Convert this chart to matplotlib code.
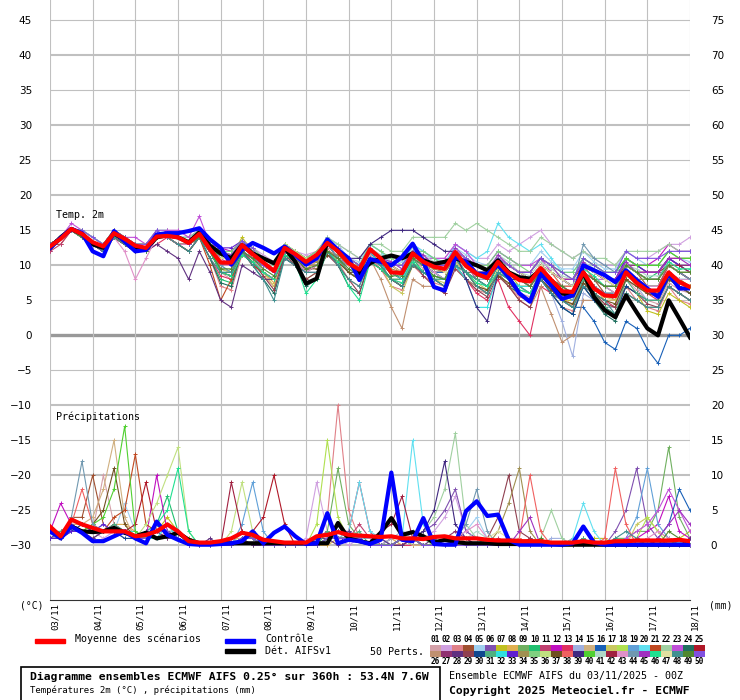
import numpy as np
import matplotlib.pyplot as plt
from matplotlib.patches import Rectangle
from matplotlib.transforms import blended_transform_factory

# forecast steps every 6h over 360h
hours = np.arange(0, 361, 6)
days = hours / 24.0
day_labels = ["03/11", "04/11", "05/11", "06/11", "07/11", "08/11", "09/11", "10/11",
              "11/11", "12/11", "13/11", "14/11", "15/11", "16/11", "17/11", "18/11"]

# temperature 2m (degC)
mean_t = [12.7, 13.8, 15.2, 14.5, 13.3, 12.7, 14.6, 13.8, 12.8, 12.5, 14.1, 14.2, 14.0, 13.2, 14.5, 12.3,
          10.4, 10.4, 12.9, 11.6, 10.4, 9.2, 12.5, 11.6, 10.5, 11.5, 13.2, 12.0, 10.3, 9.4, 12.3, 11.0,
          9.0, 8.9, 11.7, 10.5, 9.8, 9.5, 11.9, 9.9, 8.8, 8.2, 10.5, 8.9, 7.9, 7.7, 9.6, 7.9,
          6.3, 6.2, 9.0, 6.7, 5.7, 5.6, 9.0, 7.5, 6.4, 6.4, 9.0, 7.6, 6.9]
ctrl_t = [12.5, 13.9, 15.2, 14.6, 12.0, 11.3, 14.9, 13.4, 12.0, 12.2, 14.4, 14.6, 14.6, 14.9, 15.3, 13.7,
          12.5, 10.1, 12.2, 13.2, 12.5, 11.7, 12.7, 11.5, 10.1, 11.0, 13.7, 12.2, 11.0, 7.9, 10.9,
          10.5, 10.0, 11.2, 13.1, 10.5, 6.9, 6.4, 11.2, 10.5, 8.8, 8.8, 10.0, 8.3, 6.0, 4.8,
          8.8, 7.1, 5.2, 5.7, 10.0, 9.3, 8.6, 7.6, 9.3, 7.9, 6.7, 5.5, 8.8, 6.7, 6.7]
det_t = [12.5, 14.0, 15.2, 14.5, 13.0, 12.5, 14.6, 13.5, 12.5, 12.3, 14.0, 14.3, 14.0, 13.3, 14.7, 12.8,
         11.7, 11.0, 12.9, 11.7, 11.0, 10.3, 12.5, 10.5, 7.4, 8.1, 13.4, 12.0, 10.5, 8.9, 10.3,
         11.0, 11.4, 11.0, 11.7, 10.7, 10.2, 10.5, 11.0, 10.5, 10.0, 9.3, 10.7, 9.0, 8.3, 8.1,
         9.3, 7.6, 6.0, 5.7, 9.0, 5.5, 3.6, 2.6, 5.7, 3.3, 1.0, 0.0, 5.0, 2.4, -0.3]

# precipitation (mm)
mean_p = [2.7, 1.3, 3.7, 3.0, 2.5, 2.0, 2.0, 2.0, 1.3, 1.5, 2.0, 3.0, 2.0, 0.6, 0.4, 0.4,
          0.6, 1.0, 1.8, 1.5, 0.8, 0.6, 0.4, 0.4, 0.4, 1.3, 1.5, 1.9, 1.5, 1.4, 1.3,
          1.2, 1.3, 1.0, 1.0, 0.9, 1.2, 1.3, 1.0, 1.0, 1.0, 0.8, 0.7, 0.7, 0.6, 0.6,
          0.6, 0.4, 0.4, 0.4, 0.6, 0.4, 0.4, 0.6, 0.6, 0.7, 0.7, 0.7, 0.7, 0.8, 0.6]
ctrl_p = [2.0, 1.0, 2.7, 1.8, 0.6, 0.6, 1.3, 2.0, 1.0, 0.3, 3.4, 1.5, 0.8, 0.2, 0.1, 0.1,
          0.2, 0.3, 0.6, 2.0, 0.3, 1.8, 2.7, 1.3, 0.2, 0.3, 4.6, 0.3, 0.8, 0.6, 0.2,
          0.8, 10.4, 0.8, 0.6, 3.9, 0.2, 0.1, 0.1, 4.9, 6.3, 4.2, 4.4, 0.8, 0.1, 0.1,
          0.1, 0.1, 0.1, 0.3, 2.7, 0.4, 0.1, 0.1, 0.1, 0.1, 0.1, 0.1, 0.1, 0.1, 0.1]
det_p = [2.5, 1.3, 2.7, 2.0, 1.9, 2.0, 2.5, 1.8, 1.3, 1.8, 1.0, 1.3, 1.8, 0.8, 0.3, 0.3,
         0.3, 0.3, 0.3, 0.3, 0.3, 0.3, 0.3, 0.3, 0.3, 0.3, 0.3, 3.2, 1.0, 0.6, 0.3,
         1.8, 3.9, 1.5, 1.9, 1.3, 0.4, 0.8, 0.5, 0.3, 0.3, 0.3, 0.2, 0.2, 0.2, 0.2,
         0.2, 0.2, 0.1, 0.1, 0.1, 0.1, 0.1, 0.1, 0.1, 0.1, 0.1, 0.1, 0.1, 0.1, 0.1]

member_colors = [
    "#d4a0a8", "#d0a0e0", "#e08088", "#a05030", "#a0d0f0", "#8050b0", "#c0c020", "#e0b050",
    "#70b060", "#20c070", "#c04070", "#c010c0", "#e03060", "#a0b0e0", "#d0b080", "#1860b8",
    "#c8c860", "#b0e050", "#60a0d8", "#60e0f0", "#c04820", "#a0d0a0", "#c050d8", "#207060",
    "#b01828", "#c09070", "#903070", "#603080", "#904050", "#104890", "#50b080", "#30e0e0",
    "#6020d0", "#a09050", "#80d080", "#c0e080", "#705020", "#f06060", "#402880", "#50d030",
    "#b0d8c8", "#a02040", "#e090c8", "#7098b0", "#a030c0", "#20e090", "#e0e0a0", "#409090",
    "#508830", "#8050e0"]

# one row per member, one group per day (00/06/12/18Z) + last step
member_t = """
13 14 15 14 | 13 12 14 14 | 13 12 14 14 | 14 13 14 12 | 9 8 12 11 | 9 8 12 11.5 | 10 10.5 13 11 | 9 8 11.5 10 | 8 7.5 11 9.5 | 8.5 8 10.5 9 | 7 6.5 9 8 | 6 5.5 8 6.5 | 5 4.5 8 6 | 4.5 4 8 6.5 | 5 4.5 7.5 6.5 | 6
13 14 15 15 | 14 13 15 14 | 13 13 14 15 | 15 14 15 13 | 12 12 13.5 12.5 | 11.5 10.5 13 12 | 11.5 12 14 13 | 12 11 13 12 | 11 11 13 12 | 11 11 13 12 | 11 11 13 12 | 13 14 15 13 | 12 11 12 11 | 10 10 12 11 | 11 12 13 13 | 14
12 14 15 14 | 13 13 14 13 | 12 12 14 14 | 13 12 14 11 | 7 6.5 11.5 10.5 | 8.5 7 11.5 10.5 | 9 10 12.5 10.5 | 8 7 11 9.5 | 7 6.5 10 8.5 | 7.5 7 10 8 | 6.5 6 9 7 | 5.5 5 8 6 | 4 3.5 7 5 | 3.5 3 7 5 | 4 3.5 7 5 | 4.5
13 13 15 14 | 13 12 14 13 | 13 12 14 14 | 14 13 14 12 | 11 11 13.5 12 | 10 9 13 12 | 10 11 12 11 | 10 9 12 10 | 9 8 11 10 | 9 9 11 9 | 9 8 10 8 | 7 7 10 8 | 7 7 10 8 | 6 6 10 9 | 7 7 10 9 | 8
13 14 15 15 | 14 13 15 14 | 13 13 15 14 | 14 13 15 13 | 12 12 13.5 12.5 | 11 10 13 12 | 11 12 14 13 | 11 10.5 13 12 | 10.5 10.5 12.5 11.5 | 11 10.5 12.5 11.5 | 10.5 10 12 11 | 10 10 12 10.5 | 9.5 9.5 12 10.5 | 9.5 9.5 12 11 | 10 10 12 11 | 10.5
12 14 15 14 | 13 12 14 14 | 12 12 14 14 | 14 13 14 12 | 9.5 9 12 11 | 10 9 12 11 | 10 11 13 11 | 10 9 12 11 | 9 9 12 10 | 9 9 12 10 | 9 8 10 9 | 8 7 9 8 | 6 6 9 7 | 6 6 10 9 | 8 8 11 10 | 9
13 14 15 14 | 13 13 15 14 | 13 13 14 14 | 14 13 15 12 | 11 11 14 12 | 10 9 13 12 | 11 12 13 12 | 10 10 12 11 | 9 9 11 10 | 10 9 12 10 | 9 8 11 9 | 7 7 9 7 | 5 5 8 6 | 4 4 7 6 | 3.5 3 6 5 | 4
13 14 15 14 | 13 13 14 14 | 13 12 14 14 | 13 13 14 12 | 9.5 9 12 11 | 9 7.5 12 11 | 9.5 10.5 12 11 | 9 8 11 10 | 8 8 11 10 | 9 9 11 10 | 9 8 10 9 | 8 8 10 8 | 7 6 9 7 | 5 5 9 7 | 6 6 9 8 | 7
13 14 15 15 | 13 13 15 14 | 13 13 14 14 | 14 13 15 12 | 10.5 10.5 13 12 | 10 9 12 11 | 10 11 13 12 | 10 9 12 11 | 9 9 12 11 | 10 10 12 10 | 9 9 11 9 | 8 8 10 8 | 7 7 9 8 | 7 7 9 8 | 7 7 10 9 | 8
13 14 15 14 | 13 12 14 13 | 12 12 14 14 | 14 13 14 11 | 8 7.5 12 11 | 10 9 12 11 | 10 10 12 11 | 9 8 11 10 | 8 8 11 9 | 8 8 11 9 | 8 7 10 8 | 7 6 9 7 | 6 5 9 7 | 6 6 9 8 | 8 9 11 10 | 9
12 13 15 14 | 13 12 14 13 | 12 12 14 14 | 14 13 14 12 | 11.5 11.5 13 12 | 10 9 12 11 | 10 11 13 12 | 10 9 12 11 | 9 8 11 10 | 9 9 12 10 | 8 8 10 9 | 8 7 9 7 | 6 6 9 7 | 6 5 9 8 | 7 7 10 9 | 8
13 14 15 14 | 13 13 15 14 | 13 13 14 15 | 14 14 15 13 | 12.5 12 13.5 12.5 | 11 10 13 12 | 11 12 13 12 | 11 10 12 11 | 10 10 12 11 | 10 10 12 11 | 10 9 11 10 | 9 9 11 9 | 8 8 10 9 | 8 8 11 10 | 10 11 13 12 | 12
13 14 15 14 | 13 12 14 13 | 12 12 13 14 | 13 12 14 11 | 8.5 8 12 10 | 9 8 12 11 | 9 10 12 11 | 9 8 11 10 | 8 7 10 9 | 8 7 10 8 | 6 5 8 4 | 2 0 7 6 | 5 4 7 6 | 5 4 8 7 | 6 5 8 7 | 6
13 14 15 14 | 13 13 14 14 | 13 12 14 14 | 14 13 14 12 | 10 10 12 11 | 10 9 12 11 | 10 10 12 11 | 10 9 12 10 | 9 8 11 10 | 9 9 11 9 | 8 8 10 8 | 7 6 9 6 | 2 -3 6 5 | 4 4 8 7 | 5 5 8 7 | 6
13 14 15 15 | 14 13 15 14 | 13 13 14 14 | 14 13 14 12 | 12 11.5 13 11 | 10 9 12 11 | 10 11 13 12 | 10 9 12 11 | 9 9 12 11 | 10 9 12 10 | 9 8 11 9 | 8 8 10 8 | 6 4 7 6 | 5 5 8 7 | 6 6 8 7 | 6
13 14 15 14 | 13 12 14 14 | 13 12 14 14 | 14 13 14 12 | 10 10 12 11 | 10 9 12 11 | 10 11 13 12 | 10 9 12 11 | 9 9 11 10 | 9 9 11 10 | 9 8 10 9 | 8 7 9 7 | 5 4 4 2 | -1 -2 2 1 | -2 -4 0 0 | 1
13 14 15 14 | 13 13 15 14 | 13 12 14 14 | 14 13 14 12 | 9.5 9 12 11 | 9 7 11 10 | 8 9 12 10.5 | 9 8 11 10 | 7 6 10 9 | 8 7.5 10.5 9 | 7.5 6.5 9.5 8 | 6.5 6 9 7.5 | 6 5 8.5 7 | 5.5 5 8.5 7.5 | 6.5 6 9 8 | 7
13 14 15 14 | 13 13 15 14 | 13 12 14 14 | 14 13 15 12 | 12 11.5 13.5 12 | 10 9 13 12 | 11 11 13 12 | 10 10 12 11 | 10 9 12 11 | 10 10 12 11 | 10 9 11 10 | 9 9 11 10 | 8 8 10 9 | 8 8 10 9 | 8 8 10 9 | 9
13 14 15 14 | 13 12 14 14 | 13 12 14 14 | 13 13 14 12 | 10 9 12 11 | 9 8 12 11 | 10 10 12 11 | 9 8 11 10 | 9 8 11 10 | 8 8 11 9 | 8 7 10 8 | 7 6 9 7 | 6 5 8 7 | 6 6 11 10 | 9 9 11 10 | 9
13 14 15 15 | 14 13 15 14 | 13 13 15 15 | 14 14 15 13 | 11 11 13 12 | 11 10 13 12 | 11 11 13 12 | 11 10 13 12 | 10 10 13 12 | 11 10 13 12 | 11 12 16 14 | 13 12 13 11 | 9 9 11 10 | 9 9 11 10 | 9 9 11 10 | 10
13 14 15 14 | 13 12 14 13 | 12 12 14 14 | 13 12 14 10 | 5 8 12 10 | 9 8 12 11 | 10 10 12 11 | 10 9 12 10 | 9 8 11 10 | 9 8 11 10 | 9 8 10 9 | 8 7 9 8 | 7 6 9 8 | 7 6 9 8 | 7 7 9 8 | 7
13 14 15 15 | 14 13 15 14 | 13 13 15 15 | 14 14 15 13 | 11 11 13 12 | 11 10 13 12 | 11 12 14 13 | 12 11 13 13 | 12 12 14 14 | 14 14 16 15 | 16 15 14 13 | 12 12 14 13 | 12 11 12 11 | 11 10 12 12 | 12 12 13 12 | 12
13 14 16 15 | 14 13 15 14 | 14 13 15 15 | 15 14 17 13 | 11 10 12 11 | 10 9 12 11 | 10 11 13 12 | 11 10 12 11 | 10 10 12 11 | 11 11 13 12 | 10 10 12 11 | 10 10 11 9 | 8 7 9 8 | 8 8 10 9 | 9 9 11 10 | 10
13 14 15 14 | 13 12 14 13 | 12 12 14 14 | 13 12 14 11 | 7.5 7 12 10 | 8 6 11 10 | 7 8 12 10 | 7 6 11 10 | 8 7 10 9 | 8 7 10 8 | 7 6 9 7 | 6 5 8 6 | 4 3 7 5 | 3 2 6 5 | 4 4 7 6 | 5
13 14 15 15 | 13 13 15 14 | 13 13 14 14 | 14 13 14 12 | 10 11 13 12 | 10 9 12 12 | 11 11 13 12 | 11 10 12 11 | 10 9 12 11 | 10 10 12 10 | 9 9 11 9 | 8 8 10 9 | 8 8 10 9 | 8 8 10 9 | 9 9 11 11 | 11
13 14 15 14 | 13 12 14 13 | 12 12 14 14 | 13 13 14 12 | 10 10 12 11 | 10 9 12 11 | 10 10 12 11 | 9 8 11 8 | 4 1 8 7 | 7 6 10 8 | 7 6 9 7 | 5 4 7 3 | -1 0 5 5 | 4 3 6 5 | 4 4 7 6 | 5
13 14 15 14 | 13 13 14 14 | 13 12 14 14 | 14 13 14 12 | 10 10 12 11 | 10 9 12 11 | 10 11 13 12 | 10 9 12 11 | 9 9 12 11 | 10 9 12 11 | 9 9 11 10 | 9 8 10 9 | 8 7 10 9 | 8 8 10 10 | 9 9 11 10 | 10
13 14 15 14 | 13 12 14 13 | 12 12 13 12 | 11 8 12 9 | 5 4 10 9 | 8 8 11 10 | 9 9 12 11 | 9 9 12 11 | 10 9 12 11 | 10 10 12 10 | 9 9 11 10 | 9 8 10 9 | 8 7 10 9 | 8 7 10 9 | 8 8 10 9 | 9
13 14 15 14 | 13 12 14 14 | 13 12 14 14 | 14 13 14 12 | 9 8.5 12 10.5 | 8.5 6.5 11.5 10 | 8 9 11.5 10 | 8 6 10.5 9.5 | 8 7 10.5 8.5 | 7 6 9.5 8 | 6.5 5.5 8.5 7 | 5 4 8 6.5 | 5 4 7.5 6 | 4.5 4 7 6 | 4.5 4 7 6 | 5
13 14 15 14 | 13 13 15 14 | 13 12 14 14 | 14 13 14 12 | 10 10 12 11 | 10 9 12 11 | 10 11 13 11 | 10 9 12 10 | 9 8 11 10 | 9 8 11 9 | 8 7 10 8 | 6 5 8 6 | 4 3 7 5 | 4 3 7 6 | 5 5 8 7 | 6
13 14 15 14 | 13 12 14 13 | 12 12 14 14 | 14 13 14 12 | 9 9 12 11 | 9 8 12 11 | 9 10 12 11 | 9 8 11 10 | 8 8 11 10 | 8 8 11 9 | 8 7 10 8 | 7 6 9 7 | 5 4 8 6 | 4 3 8 6 | 5 5 8 7 | 6
13 14 15 15 | 14 13 15 14 | 13 13 14 14 | 14 13 15 12 | 10 10 12 11 | 10 9 12 11 | 10 11 13 12 | 10 9 12 10 | 9 8 11 10 | 9 8 10 8 | 4 4 9 8 | 7 7 9 8 | 7 6 9 8 | 7 6 9 8 | 7 7 9 8 | 8
13 14 15 14 | 13 13 14 14 | 13 12 14 14 | 14 13 14 12 | 12.5 12.5 13.5 12 | 10 9 12 11 | 10 11 13 12 | 10 9 12 11 | 10 9 12 11 | 10 9 12 10 | 9 9 11 10 | 9 8 10 9 | 8 7 10 9 | 8 8 11 10 | 9 9 11 10 | 9
13 14 15 14 | 13 12 14 13 | 12 12 14 14 | 13 13 14 12 | 10.5 10 12.5 11.5 | 10 9 12 11 | 10.5 10.5 12 11.5 | 10 9.5 12 11 | 9.5 9 11.5 10 | 9.5 9 11 10 | 9 8 10 9 | 8 7 9 8 | 7 6 9 8 | 7 7 9 8 | 8 8 10 9 | 8
13 14 15 15 | 14 13 15 14 | 13 13 14 14 | 14 13 15 13 | 12 12 13.5 12.5 | 11 10 13 12 | 11 12 13 12 | 11 10 13 12 | 11 10 12 12 | 11 10 12 11 | 10 10 12 11 | 10 9 11 10 | 9 9 11 10 | 9 9 11 10 | 10 10 12 11 | 11
13 14 15 14 | 13 13 15 14 | 13 12 14 14 | 14 13 14 12 | 10 10 12 11 | 10 9 13 12 | 11 11 13 12 | 10 9 12 11 | 10 9 12 11 | 10 9 12 10 | 9 9 11 10 | 9 8 10 9 | 7 7 10 9 | 8 7 10 9 | 8 8 10 9 | 9
13 14 15 14 | 13 12 14 13 | 12 12 14 14 | 13 13 14 12 | 9 8.5 11.5 10.5 | 9 8 11.5 10.5 | 9.5 9.5 11.5 10.5 | 9 8 10.5 9.5 | 8 7 10 9 | 8.5 8 10 9 | 7 6.5 8.5 7.5 | 6 5 8 6.5 | 5 4.5 7.5 6 | 5 4.5 8 7 | 6 5.5 8 7 | 6
13 14 15 14 | 13 13 14 14 | 13 12 14 14 | 14 13 14 12 | 10 10 13 11 | 10 9 12 11 | 10 11 13 12 | 10 9 12 11 | 9 9 12 11 | 10 9 12 10 | 9 8 11 9 | 8 8 10 9 | 7 7 10 8 | 7 7 10 9 | 8 8 10 9 | 8
13 14 15 14 | 13 13 15 14 | 13 13 14 14 | 14 13 15 12 | 10 10 12 11 | 10 9 12 11 | 10 11 13 12 | 11 11 13 14 | 15 15 15 14 | 13 12 12 8 | 4 2 9 8 | 8 7 9 8 | 7 6 9 8 | 7 7 10 9 | 8 8 10 9 | 8
13 14 15 14 | 13 13 15 14 | 13 12 14 14 | 14 13 14 12 | 11.5 11 13 12 | 10 9 12 11 | 10 11 13 12 | 10 9 12 11 | 9 9 12 11 | 10 9 12 10 | 9 9 11 10 | 9 9 11 10 | 9 8 11 10 | 9 9 11 10 | 10 10 12 11 | 11
13 14 15 15 | 14 13 15 14 | 13 13 14 14 | 14 13 15 12 | 10.5 10.5 13.5 12.5 | 10.5 9.5 12.5 11.5 | 10.5 11.5 13.5 12.5 | 10.5 9.5 12.5 11.5 | 10.5 9.5 12.5 11.5 | 10.5 10 12 11 | 10 9.5 11.5 10.5 | 9 8.5 10.5 9.5 | 8.5 8 10.5 9.5 | 8.5 8 10 9.5 | 8.5 8.5 10.5 9.5 | 9.5
13 14 15 14 | 13 12 14 13 | 12 12 14 14 | 13 13 14 12 | 10 10 12 11 | 10 9 12 11 | 10 11 12 11 | 10 9 12 11 | 10 9 12 11 | 10 9 12 11 | 10 9 11 10 | 9 8 10 9 | 8 7 10 9 | 8 8 10 9 | 9 9 10 10 | 9
13 14 15 14 | 13 12 14 12 | 8 11 14 14 | 13 13 14 12 | 10 10 12 11 | 9 8 12 11 | 9 10 12 11 | 10 9 12 11 | 9 9 11 10 | 9 8 11 10 | 9 8 10 9 | 8 7 9 8 | 7 6 9 8 | 7 6 9 8 | 7 7 9 8 | 8
13 14 15 14 | 13 13 15 14 | 13 12 14 14 | 14 13 14 12 | 10 9 12 11 | 10 9 12 11 | 10 11 13 11 | 10 9 12 11 | 9 9 12 11 | 10 10 12 11 | 10 9 11 10 | 9 8 10 9 | 8 7 13 11 | 10 9 10 9 | 8 8 10 9 | 8
13 14 15 14 | 13 12 14 14 | 13 12 14 14 | 14 13 14 12 | 10.5 10 12.5 11.5 | 10 9 12.5 11 | 10 11 13 12.5 | 10 9 12.5 11 | 10.5 9.5 12 11.5 | 10 10 12.5 11 | 9 9 11.5 10 | 9 9 11 10 | 8 8 10.5 9 | 8 8 10.5 9 | 9 9 11 11 | 10
13 14 15 14 | 13 13 14 14 | 13 12 14 14 | 14 13 14 12 | 9 8.5 11.5 10.5 | 9 8 11.5 10.5 | 6 8 12 10.5 | 7 5 10.5 9.5 | 8 7.5 10.5 9 | 8.5 8 10 9 | 7.5 7 9 8 | 6.5 6 8.5 7.5 | 6.5 6 9.5 8.5 | 7 7 10 9 | 8 8 10.5 9.5 | 9.5
13 14 15 14 | 13 13 15 14 | 13 13 14 14 | 14 13 15 12 | 11 11 13 12 | 10 9 12 11 | 10 11 13 12 | 10 9 12 11 | 10 9 12 11 | 10 9 12 11 | 9 9 11 10 | 9 8 10 9 | 8 7 10 9 | 8 7 10 9 | 8 8 10 9 | 9
13 14 15 14 | 13 12 14 13 | 12 12 14 14 | 13 12 14 11 | 9 9 12 10 | 8 5 11 10 | 9 9 12 10 | 8 7 11 10 | 8 7 10 9 | 8 7 10 9 | 7 6 9 8 | 6 5 8 6 | 5 4 7 6 | 5 3 6 5 | 4 4 7 6 | 5
13 14 15 14 | 13 13 15 14 | 13 12 14 14 | 14 13 14 12 | 9.5 9.5 12 11 | 9.5 8.5 12 11 | 9.5 10 12 11 | 9.5 8.5 12 11 | 8.5 8.5 11 10 | 8.5 8 11 10 | 8.5 8 10 9 | 8 7 9 8 | 7 6 9 8 | 7 7 10 9 | 8 8 10 9 | 9
13 14 15 15 | 14 13 15 14 | 13 13 15 14 | 14 13 15 12 | 12 11.5 13.5 12.5 | 10 9 12 11 | 10 11 13 12 | 11 10 12 11 | 10 10 12 11 | 10 10 12 11 | 10 9 11 10 | 9 9 11 10 | 9 8 11 10 | 9 9 12 11 | 11 11 12 12 | 12
"""

member_p = """
2 1 3 2 | 2 10 3 2 | 1 1 2 2 | 1 0 0 0 | 0 1 1 1 | 0 0 0 0 | 0 1 2 1 | 1 1 1 0 | 1 0 1 1 | 0 0 0 1 | 0 0 0 1 | 1 0 0 0 | 0 0 1 0 | 0 0 0 1 | 0 0 0 0 | 0
1 1 2 3 | 2 1 2 1 | 1 1 2 1 | 1 0 0 0 | 0 0 1 1 | 0 0 0 0 | 1 9 2 1 | 0 1 1 1 | 0 0 1 1 | 2 4 7 2 | 1 0 0 0 | 0 0 0 0 | 0 0 1 0 | 0 0 0 0 | 0 0 1 0 | 0
2 1 4 3 | 2 2 2 2 | 1 1 1 2 | 2 1 0 0 | 0 0 1 1 | 1 0 0 0 | 0 1 4 20 | 5 1 1 1 | 0 1 1 0 | 0 0 0 0 | 0 0 0 0 | 0 0 0 0 | 0 0 0 0 | 0 0 0 0 | 0 0 0 0 | 0
2 1 4 4 | 10 3 2 2 | 1 1 2 1 | 1 0 0 0 | 0 0 1 0 | 0 0 0 0 | 0 0 1 1 | 1 1 0 0 | 1 1 0 0 | 0 0 0 0 | 0 0 0 0 | 0 0 0 0 | 0 1 0 0 | 0 0 0 0 | 0 0 0 0 | 0
2 1 3 2 | 2 3 2 6 | 2 1 2 3 | 2 0 0 0 | 0 0 1 1 | 0 0 0 0 | 0 1 1 2 | 1 1 0 0 | 1 1 1 0 | 0 0 1 2 | 4 1 0 0 | 0 0 0 0 | 0 0 0 0 | 0 0 0 0 | 0 0 1 0 | 0
1 1 3 2 | 2 2 2 2 | 1 1 2 2 | 1 0 0 0 | 0 1 2 1 | 0 0 0 0 | 0 0 1 1 | 1 1 1 0 | 1 1 1 2 | 3 5 8 2 | 1 0 0 0 | 0 0 0 0 | 0 0 0 0 | 0 2 5 11 | 3 1 0 0 | 0
2 1 3 2 | 2 2 2 2 | 2 1 2 4 | 2 1 0 0 | 0 0 1 1 | 0 0 0 0 | 0 0 1 2 | 1 1 0 0 | 0 1 1 0 | 0 0 0 0 | 0 0 0 0 | 0 0 0 0 | 0 0 0 1 | 1 0 0 0 | 0 0 0 1 | 2
2 1 3 2 | 2 2 3 3 | 2 1 2 2 | 1 0 0 0 | 0 0 1 1 | 0 0 0 0 | 0 0 0 1 | 1 1 0 0 | 1 0 1 0 | 0 0 0 0 | 0 0 0 0 | 1 0 0 0 | 0 0 0 0 | 0 0 0 0 | 0 0 0 0 | 0
2 1 3 2 | 2 2 2 2 | 1 1 2 2 | 2 0 0 0 | 0 0 1 0 | 0 0 0 0 | 0 0 2 11 | 3 1 1 0 | 0 1 1 0 | 0 0 0 0 | 0 0 0 0 | 0 0 0 0 | 0 0 0 0 | 0 1 1 2 | 2 5 14 4 | 1
2 1 3 2 | 2 2 2 2 | 1 2 3 7 | 2 0 0 0 | 0 0 1 1 | 0 0 0 0 | 0 0 1 1 | 1 1 0 0 | 0 1 0 0 | 0 0 0 0 | 0 0 0 0 | 0 0 0 0 | 0 0 0 0 | 0 0 0 0 | 0 0 0 0 | 0
2 1 3 3 | 2 2 2 2 | 1 1 2 2 | 1 0 0 0 | 0 0 1 1 | 0 0 0 0 | 0 1 2 1 | 1 3 1 0 | 0 0 1 0 | 0 0 0 0 | 0 0 1 0 | 0 0 0 0 | 0 0 0 0 | 0 0 0 0 | 0 0 0 0 | 0
2 6 3 2 | 2 2 2 2 | 1 1 10 2 | 1 0 0 0 | 0 0 1 1 | 0 0 0 0 | 0 0 1 2 | 2 1 1 1 | 0 0 1 0 | 0 0 0 0 | 0 0 0 0 | 0 0 0 0 | 0 0 0 0 | 0 0 0 1 | 2 3 7 2 | 1
2 1 3 2 | 2 2 2 2 | 1 1 2 2 | 1 0 0 0 | 0 0 1 1 | 0 0 0 0 | 0 0 1 1 | 2 9 2 0 | 0 0 0 0 | 0 0 0 0 | 0 0 0 0 | 0 0 0 0 | 0 0 0 0 | 0 0 0 0 | 0 0 0 0 | 0
2 1 3 2 | 2 2 2 2 | 1 1 2 2 | 2 0 0 0 | 0 0 1 1 | 0 0 0 0 | 0 0 1 1 | 1 1 1 0 | 1 2 1 1 | 0 0 1 0 | 0 0 0 0 | 0 0 0 1 | 1 0 0 0 | 0 0 0 0 | 0 0 0 0 | 0
2 1 3 3 | 4 8 15 4 | 1 1 2 2 | 1 0 0 0 | 0 0 1 1 | 0 0 0 0 | 0 0 1 1 | 1 1 0 0 | 0 1 0 0 | 0 0 0 0 | 0 0 0 0 | 0 0 0 0 | 0 0 0 0 | 0 0 0 0 | 0 0 0 0 | 0
1 1 3 2 | 2 2 2 2 | 1 1 2 2 | 1 0 0 0 | 0 0 1 1 | 0 0 0 0 | 0 0 1 1 | 1 1 0 0 | 0 1 1 0 | 0 0 0 0 | 0 0 0 0 | 0 0 0 0 | 0 0 0 0 | 0 0 0 0 | 0 1 3 8 | 5
2 1 3 2 | 2 2 2 2 | 1 1 2 2 | 1 0 0 0 | 0 0 2 1 | 0 0 0 0 | 0 0 1 1 | 1 1 0 0 | 0 0 1 0 | 0 0 0 0 | 0 0 0 0 | 0 0 0 0 | 0 0 0 0 | 0 0 0 3 | 4 2 1 0 | 0
2 1 3 2 | 2 2 2 2 | 1 1 2 3 | 2 0 0 0 | 0 0 1 1 | 0 0 0 0 | 0 3 15 4 | 1 1 0 0 | 0 1 1 0 | 0 0 0 0 | 0 0 0 0 | 0 0 0 0 | 0 0 0 0 | 0 0 0 1 | 4 2 0 0 | 0
2 1 3 2 | 2 2 2 2 | 1 1 2 2 | 1 0 0 0 | 0 0 3 9 | 2 0 0 0 | 0 0 1 1 | 1 1 0 0 | 0 1 1 0 | 0 0 0 0 | 0 0 0 0 | 0 0 0 0 | 0 0 0 0 | 0 0 1 4 | 11 3 1 0 | 0
2 1 3 2 | 2 2 2 2 | 1 1 2 2 | 1 0 0 0 | 0 0 1 1 | 0 0 0 0 | 0 0 1 1 | 2 9 2 1 | 0 1 15 3 | 1 0 0 0 | 0 0 0 0 | 0 0 0 0 | 0 1 6 2 | 0 0 0 0 | 0 0 0 0 | 0
2 1 3 2 | 2 2 4 5 | 13 3 2 2 | 1 0 0 0 | 0 0 1 1 | 0 0 0 0 | 0 0 1 1 | 1 1 0 0 | 0 0 1 0 | 0 0 0 0 | 0 0 0 0 | 0 0 0 0 | 0 0 0 0 | 0 0 0 0 | 0 0 0 0 | 0
2 1 3 2 | 2 2 2 2 | 1 1 2 2 | 1 0 0 0 | 0 0 1 1 | 0 0 0 0 | 0 0 1 1 | 1 1 0 0 | 0 1 1 2 | 4 8 16 3 | 1 0 0 0 | 0 0 1 5 | 1 0 0 0 | 0 0 0 0 | 0 0 0 0 | 0
2 1 3 2 | 2 2 2 2 | 1 1 2 2 | 1 0 0 0 | 0 0 1 1 | 0 0 0 0 | 0 0 1 1 | 1 1 0 0 | 0 1 1 0 | 0 0 0 0 | 0 0 0 0 | 0 0 0 0 | 0 0 0 0 | 0 0 1 2 | 3 5 8 5 | 2
1 1 3 2 | 2 2 2 2 | 1 1 2 2 | 1 0 0 0 | 0 0 1 1 | 0 0 0 0 | 0 0 1 1 | 1 1 0 0 | 0 1 1 0 | 0 0 0 0 | 0 0 0 0 | 0 0 0 0 | 0 0 0 0 | 0 0 0 0 | 0 0 0 0 | 0
2 1 3 2 | 2 2 2 2 | 3 9 2 2 | 1 0 0 0 | 0 0 1 2 | 4 10 3 0 | 0 0 1 1 | 1 1 0 0 | 0 1 1 0 | 0 0 0 0 | 0 0 0 0 | 0 0 0 0 | 0 0 0 0 | 0 0 0 0 | 0 0 0 0 | 0
2 1 3 2 | 1 2 3 2 | 1 1 2 2 | 1 0 0 0 | 0 0 1 1 | 0 0 0 0 | 0 0 1 1 | 1 1 0 0 | 0 1 1 0 | 0 0 0 0 | 0 0 0 0 | 0 0 0 0 | 0 0 0 0 | 0 0 0 0 | 0 0 0 0 | 0
2 1 3 2 | 2 2 2 2 | 1 1 2 2 | 1 0 0 0 | 0 0 1 1 | 0 0 0 0 | 0 0 1 1 | 1 1 0 0 | 0 1 1 0 | 0 1 2 1 | 0 0 0 0 | 0 0 0 0 | 0 0 0 0 | 0 0 0 0 | 0 0 0 0 | 0
1 2 3 2 | 1 2 3 2 | 1 2 2 1 | 2 0 0 1 | 0 0 1 0 | 0 0 0 0 | 0 1 1 0 | 2 1 0 1 | 0 0 1 0 | 1 0 0 0 | 0 0 0 1 | 0 1 0 0 | 0 0 1 0 | 0 0 0 0 | 1 0 0 0 | 1
2 1 3 2 | 2 2 2 2 | 1 1 2 2 | 1 0 0 0 | 0 0 1 1 | 0 0 0 0 | 0 0 1 1 | 1 1 0 0 | 0 1 1 0 | 0 0 0 0 | 0 1 4 10 | 2 1 0 0 | 0 0 0 0 | 0 0 0 0 | 0 0 0 0 | 0
2 1 2 3 | 2 2 2 1 | 1 1 2 2 | 1 0 0 0 | 0 0 1 1 | 0 0 0 0 | 0 0 1 2 | 1 1 0 0 | 0 1 1 0 | 0 0 0 0 | 0 0 0 0 | 0 0 0 0 | 0 0 0 0 | 0 0 0 0 | 0 0 0 0 | 0
2 2 3 2 | 2 2 3 2 | 1 1 2 2 | 1 0 0 0 | 0 0 1 1 | 0 0 0 0 | 0 0 2 1 | 1 2 0 0 | 0 1 1 0 | 0 0 0 0 | 0 0 0 0 | 0 0 0 0 | 0 0 1 0 | 0 0 0 0 | 0 0 0 0 | 0
2 1 3 2 | 2 2 2 2 | 2 1 1 3 | 1 0 0 0 | 0 0 1 1 | 0 0 0 0 | 0 0 1 1 | 1 1 0 0 | 0 1 1 0 | 0 0 0 0 | 0 0 0 0 | 0 0 0 0 | 0 0 0 0 | 0 0 0 0 | 0 0 0 0 | 0
1 1 2 2 | 2 3 2 2 | 1 1 3 2 | 1 0 0 0 | 0 0 1 1 | 0 0 0 0 | 0 0 1 1 | 1 1 0 0 | 0 1 1 0 | 0 0 0 0 | 0 0 0 0 | 0 0 0 0 | 0 0 0 0 | 0 0 0 0 | 0 0 0 0 | 0
2 1 3 2 | 2 2 2 2 | 1 1 2 2 | 1 0 0 0 | 0 0 1 1 | 0 0 0 0 | 0 0 1 1 | 1 1 0 0 | 0 1 1 0 | 0 0 0 0 | 0 0 2 6 | 11 2 0 0 | 0 0 0 0 | 0 0 0 0 | 0 0 0 0 | 0
2 1 3 2 | 2 2 2 2 | 1 1 2 2 | 1 0 0 0 | 0 0 1 1 | 0 0 0 0 | 0 0 1 1 | 1 1 0 0 | 0 1 2 1 | 0 0 0 0 | 0 0 0 0 | 0 0 0 0 | 0 0 0 0 | 0 0 0 0 | 0 0 0 0 | 0
2 1 3 2 | 2 2 2 2 | 1 3 6 10 | 14 2 0 0 | 0 2 9 2 | 0 0 0 0 | 0 0 1 1 | 1 1 0 0 | 0 1 1 0 | 0 0 0 0 | 0 0 0 0 | 0 0 0 0 | 0 0 0 0 | 0 0 0 0 | 0 0 0 0 | 0
2 1 3 2 | 3 5 11 3 | 1 1 2 2 | 1 0 0 0 | 0 0 1 1 | 0 0 0 0 | 0 0 1 1 | 1 1 0 0 | 0 1 1 0 | 0 0 0 0 | 0 0 0 0 | 0 0 0 0 | 0 0 0 0 | 0 0 0 0 | 0 0 0 0 | 0
2 1 3 8 | 3 2 2 2 | 1 1 2 2 | 1 0 0 0 | 0 0 1 1 | 0 0 0 0 | 0 0 1 1 | 1 1 0 0 | 0 1 1 0 | 0 0 0 0 | 0 0 0 0 | 1 10 2 0 | 0 0 0 0 | 1 11 3 0 | 0 0 0 0 | 0
2 1 3 2 | 2 2 2 2 | 1 1 2 2 | 1 0 0 0 | 0 0 1 1 | 0 0 0 0 | 0 0 1 1 | 1 1 0 0 | 0 1 1 2 | 5 12 3 1 | 0 0 0 0 | 0 0 0 0 | 0 0 0 0 | 0 0 0 0 | 0 0 0 0 | 0
2 1 3 2 | 3 4 8 17 | 2 1 2 2 | 1 0 0 0 | 0 0 1 1 | 0 0 0 0 | 0 0 1 1 | 1 1 0 0 | 0 1 1 0 | 0 0 0 0 | 0 0 0 0 | 0 0 0 0 | 0 0 0 0 | 0 0 0 0 | 0 0 0 0 | 0
2 1 3 2 | 2 2 2 2 | 1 1 2 2 | 1 0 0 0 | 0 0 1 1 | 0 0 0 0 | 0 0 1 1 | 1 1 0 0 | 0 1 1 0 | 0 0 0 1 | 2 1 0 0 | 0 0 0 0 | 0 0 0 0 | 0 0 0 0 | 0 0 0 0 | 0
2 1 3 2 | 2 2 2 2 | 1 1 2 2 | 1 0 0 0 | 0 9 2 1 | 0 0 0 0 | 0 0 1 1 | 1 1 0 2 | 3 7 1 0 | 0 0 0 0 | 0 0 0 0 | 0 0 0 0 | 0 0 0 0 | 0 0 0 0 | 0 0 0 0 | 0
2 1 3 2 | 2 2 2 2 | 1 1 2 2 | 1 0 0 0 | 0 0 1 1 | 0 0 0 0 | 0 0 1 1 | 1 1 0 0 | 0 1 1 0 | 0 0 1 2 | 3 1 0 0 | 0 0 0 0 | 0 0 0 0 | 0 0 0 0 | 1 2 1 0 | 0
2 1 4 12 | 3 2 2 2 | 1 1 2 2 | 1 0 0 0 | 0 0 1 1 | 0 0 0 0 | 0 0 1 1 | 1 1 0 0 | 0 1 1 0 | 0 0 1 3 | 8 2 0 0 | 0 0 0 0 | 0 0 0 0 | 0 0 0 0 | 0 0 0 0 | 0
2 1 3 2 | 2 2 2 2 | 1 1 2 2 | 1 0 0 0 | 0 0 1 1 | 0 0 0 0 | 0 0 1 1 | 1 1 0 0 | 0 1 1 0 | 0 0 0 0 | 0 0 0 0 | 2 4 0 0 | 0 0 0 0 | 0 0 0 0 | 0 1 3 5 | 3
2 1 3 2 | 2 2 2 2 | 1 1 3 5 | 11 2 0 0 | 0 0 1 1 | 0 0 0 0 | 0 0 1 1 | 1 1 0 0 | 0 1 1 0 | 0 0 0 0 | 0 0 0 0 | 0 0 0 0 | 0 0 0 0 | 0 0 0 0 | 0 0 0 0 | 0
2 1 3 2 | 2 2 2 2 | 1 1 2 2 | 1 0 0 0 | 0 0 1 1 | 0 0 0 0 | 0 0 1 1 | 1 1 0 0 | 0 1 1 0 | 0 0 0 0 | 0 1 2 1 | 0 0 0 0 | 0 0 0 0 | 0 0 0 0 | 0 0 0 0 | 0
2 1 3 2 | 2 2 2 2 | 1 1 2 2 | 1 0 0 0 | 0 0 1 1 | 0 0 0 0 | 0 0 1 1 | 1 1 0 0 | 0 1 1 0 | 0 0 0 0 | 0 0 0 0 | 0 0 0 0 | 0 0 0 0 | 0 1 2 1 | 0 0 0 0 | 0
2 1 3 2 | 2 2 2 2 | 1 1 2 2 | 1 0 0 0 | 0 0 1 1 | 0 0 0 0 | 0 0 1 1 | 1 1 0 0 | 0 1 1 0 | 0 0 0 0 | 0 0 0 0 | 0 0 1 0 | 0 0 0 0 | 0 0 0 0 | 0 0 2 1 | 0
2 1 3 2 | 2 2 2 2 | 1 1 2 2 | 1 0 0 0 | 0 0 1 1 | 0 0 0 0 | 0 0 1 1 | 1 1 0 0 | 0 1 1 0 | 0 0 0 0 | 0 0 0 0 | 0 0 0 0 | 0 0 0 0 | 0 0 0 0 | 0 0 0 0 | 0
"""


def parse(block):
    return [np.array(r.replace("|", " ").split(), float) for r in block.strip().splitlines()]


temps = parse(member_t)
precs = parse(member_p)

W, H = 740, 700
mono = "DejaVu Sans Mono"
grid_c = "#c0c0c0"
P0 = -30  # precipitation zero on the temperature scale

fig = plt.figure(figsize=(W / 100, H / 100), dpi=100)
ax = fig.add_axes([50 / W, 100 / H, 640 / W, 600 / H])
ax.set_xlim(0, 15)
ax.set_ylim(-37.8, 47.9)

for v in range(-30, 50, 5):
    if v == 0:
        ax.axhline(v, color="#999999", lw=2.4, zorder=1)
    else:
        ax.axhline(v, color=grid_c, lw=1.5 if v % 10 == 0 else 0.8, zorder=1)
for d in range(16):
    ax.axvline(d, color=grid_c, lw=0.8, zorder=1)

for i in range(50):
    c = member_colors[i]
    ax.plot(days, temps[i], color=c, lw=0.8, marker="+", ms=3, mew=0.7, zorder=2)
    ax.plot(days, precs[i] + P0, color=c, lw=0.8, marker="+", ms=3, mew=0.7, zorder=2)

for series, col in [(det_t, "black"), (ctrl_t, "#0000ff"), (mean_t, "#ff0000")]:
    ax.plot(days, series, color=col, lw=3, zorder=3)
for series, col in [(det_p, "black"), (ctrl_p, "#0000ff"), (mean_p, "#ff0000")]:
    ax.plot(days, np.array(series) + P0, color=col, lw=3, zorder=3)

for s in ["top", "left", "right"]:
    ax.spines[s].set_visible(False)
ax.spines["bottom"].set_color("#333333")

ax.set_xticks([])
ax.set_yticks(range(-30, 50, 5))
ax.tick_params(axis="y", length=0, pad=13, labelsize=7.5)

ax2 = ax.twinx()
ax2.set_ylim(-37.8 + 30, 47.9 + 30)
ax2.set_yticks(range(0, 80, 5))
ax2.tick_params(axis="y", length=0, pad=15, labelsize=7.5)
for s in ax2.spines.values():
    s.set_visible(False)

tr = blended_transform_factory(ax.transData, ax.transAxes)
for d, lab in enumerate(day_labels):
    ax.text(d + 0.02, -0.006, lab, transform=tr, rotation=90, ha="left", va="top",
            fontsize=6.5, family=mono)

ax.text(0.15, 17.2, "Temp. 2m", fontsize=7.2, family=mono, va="center")
ax.text(0.15, -11.6, "Précipitations", fontsize=7.2, family=mono, va="center")


def fx(x):
    return x / W


def fy(y):
    return 1 - y / H


fig.text(fx(20), fy(606), "(°C)", fontsize=7, family=mono, va="center")
fig.text(fx(709), fy(606), "(mm)", fontsize=7, family=mono, va="center")

# legend
for x0, y0, col in [(35, 641, "#ff0000"), (225, 641, "#0000ff"), (225, 651, "black")]:
    fig.add_artist(Rectangle((fx(x0), fy(y0 + 2)), 30 / W, 4 / H, color=col,
                             transform=fig.transFigure))
fig.text(fx(75), fy(639), "Moyenne des scénarios", fontsize=7.2, family=mono, va="center")
fig.text(fx(265), fy(639), "Contrôle", fontsize=7.2, family=mono, va="center")
fig.text(fx(265), fy(651), "Dét. AIFSv1", fontsize=7.2, family=mono, va="center")
fig.text(fx(370), fy(652), "50 Perts.", fontsize=7.2, family=mono, va="center")

for j in range(25):
    x0 = 430 + 11 * j
    fig.add_artist(Rectangle((fx(x0), fy(651)), 11 / W, 6 / H, color=member_colors[j],
                             transform=fig.transFigure, lw=0))
    fig.add_artist(Rectangle((fx(x0), fy(657)), 11 / W, 6 / H, color=member_colors[j + 25],
                             transform=fig.transFigure, lw=0))
    fig.text(fx(x0 + 5.5), fy(640), "%02d" % (j + 1), fontsize=5.6, family=mono,
             weight="bold", ha="center", va="center")
    fig.text(fx(x0 + 5.5), fy(662), "%02d" % (j + 26), fontsize=5.6, family=mono,
             weight="bold", ha="center", va="center")

# bottom title box
fig.add_artist(Rectangle((fx(21), fy(701)), 419 / W, 34 / H, fill=False, ec="black",
                         lw=1.2, transform=fig.transFigure))
fig.text(fx(30), fy(677), "Diagramme ensembles ECMWF AIFS 0.25° sur 360h : 53.4N 7.6W",
         fontsize=8.2, family=mono, weight="bold", va="center")
fig.text(fx(30), fy(690), "Températures 2m (°C) , précipitations (mm)",
         fontsize=6.5, family=mono, va="center")
fig.text(fx(449), fy(676), "Ensemble ECMWF AIFS du 03/11/2025 - 00Z",
         fontsize=7.2, family=mono, va="center")
fig.text(fx(449), fy(691), "Copyright 2025 Meteociel.fr - ECMWF",
         fontsize=8.2, family=mono, weight="bold", va="center")

fig.savefig("out.png", dpi=100, facecolor="white")
